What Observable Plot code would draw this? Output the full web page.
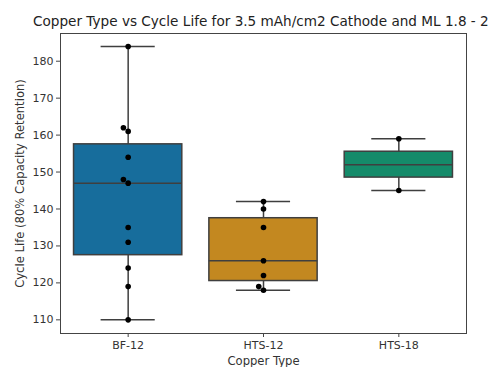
<!DOCTYPE html>
<html>
<head>
<meta charset="utf-8">
<script src="https://cdn.jsdelivr.net/npm/d3@7"></script>
<script src="https://cdn.jsdelivr.net/npm/@observablehq/plot@0.6"></script>
<style>
  body { margin: 0; background: #fff; font-family: "DejaVu Sans", sans-serif; }
  #title { width: 494px; height: 30px; box-sizing: border-box; padding-top: 12px; line-height: 18px;
           font-size: 13.6px; color: #222; text-align: left; padding-left: 33px; white-space: nowrap; }
  #chart svg g[aria-label="y-axis label"] text, #chart svg g[aria-label="x-axis label"] text { font-size: 11.6px; }
</style>
</head>
<body>
<div id="title">Copper Type vs Cycle Life for 3.5 mAh/cm2 Cathode and ML 1.8 - 2</div>
<div id="chart"></div>
<script>
const categories = ["BF-12", "HTS-12", "HTS-18"];
const bf12 = [184, 162, 161, 154, 148, 147, 135, 131, 124, 119, 110];
const hts12 = [142, 140, 135, 126, 122, 119, 118];
const hts18 = [159, 145];
const seriesValues = [bf12, hts12, hts18];
const colors = ["#176d9c", "#c38820", "#158b6a"];
const yTicks = [110, 120, 130, 140, 150, 160, 170, 180];

const width = 494, height = 337;
const marginLeft = 60, marginRight = 28, marginTop = 3, marginBottom = 34;
const yDomain = [106.3, 187.5];
const xDomain = [-0.5, 2.5];

// box statistics
const stats = seriesValues.map((vals, i) => {
  const s = vals.slice().sort(d3.ascending);
  const q1 = d3.quantile(s, 0.25), q2 = d3.quantile(s, 0.5), q3 = d3.quantile(s, 0.75);
  const iqr = q3 - q1;
  const lo = d3.min(s.filter(v => v >= q1 - 1.5 * iqr));
  const hi = d3.max(s.filter(v => v <= q3 + 1.5 * iqr));
  return {i, cat: categories[i], q1, q2, q3, lo, hi, color: colors[i]};
});

// swarm placement (computed in pixel space, converted back to x units)
const pxPerY = (height - marginTop - marginBottom) / (yDomain[1] - yDomain[0]);
const pxPerX = (width - marginLeft - marginRight) / (xDomain[1] - xDomain[0]);
const diam = 6;
const points = [];
seriesValues.forEach((vals, i) => {
  const placed = [];
  vals.slice().sort(d3.ascending).forEach(v => {
    const py = v * pxPerY;
    const cands = [0];
    for (let k = 0.25; k <= 30; k += 0.25) { cands.push(-k, k); }
    let off = 0;
    for (const c of cands) {
      if (placed.every(p => (p.x - c) ** 2 + (p.y - py) ** 2 >= diam * diam - 1e-6)) { off = c; break; }
    }
    placed.push({x: off, y: py});
    points.push({i, value: v, x: i + off / pxPerX});
  });
});

const gray = "#3f3f3f";
const chart = Plot.plot({
  width, height, marginLeft, marginRight, marginTop, marginBottom,
  style: {fontFamily: "DejaVu Sans, sans-serif", fontSize: "11px", color: "#333", background: "#fff"},
  x: {domain: xDomain, axis: null},
  y: {domain: yDomain, axis: null},
  marks: [
    Plot.axisY({ticks: yTicks, tickSize: 4, tickPadding: 3, label: "Cycle Life (80% Capacity Retention)",
                labelAnchor: "center", labelOffset: 45, labelArrow: "none", stroke: "#444"}),
    Plot.axisX({ticks: [0, 1, 2], tickFormat: i => categories[i], tickSize: 4, tickPadding: 4,
                label: "Copper Type", labelAnchor: "center", labelOffset: 31, labelArrow: "none", stroke: "#444"}),
    Plot.ruleX(stats, {x: "i", y1: "lo", y2: "hi", stroke: gray, strokeWidth: 1.5}),
    Plot.ruleY(stats, {y: "hi", x1: d => d.i - 0.2, x2: d => d.i + 0.2, stroke: gray, strokeWidth: 1.5}),
    Plot.ruleY(stats, {y: "lo", x1: d => d.i - 0.2, x2: d => d.i + 0.2, stroke: gray, strokeWidth: 1.5}),
    Plot.rect(stats, {x1: d => d.i - 0.4, x2: d => d.i + 0.4, y1: "q1", y2: "q3", fill: "color", stroke: gray, strokeWidth: 1.5}),
    Plot.ruleY(stats, {y: "q2", x1: d => d.i - 0.4, x2: d => d.i + 0.4, stroke: gray, strokeWidth: 1.5}),
    Plot.dot(points, {x: "x", y: "value", r: 2.8, fill: "black", stroke: "none"}),
    Plot.frame({stroke: "#444", strokeWidth: 1})
  ]
});
document.getElementById("chart").appendChild(chart);
</script>
</body>
</html>
